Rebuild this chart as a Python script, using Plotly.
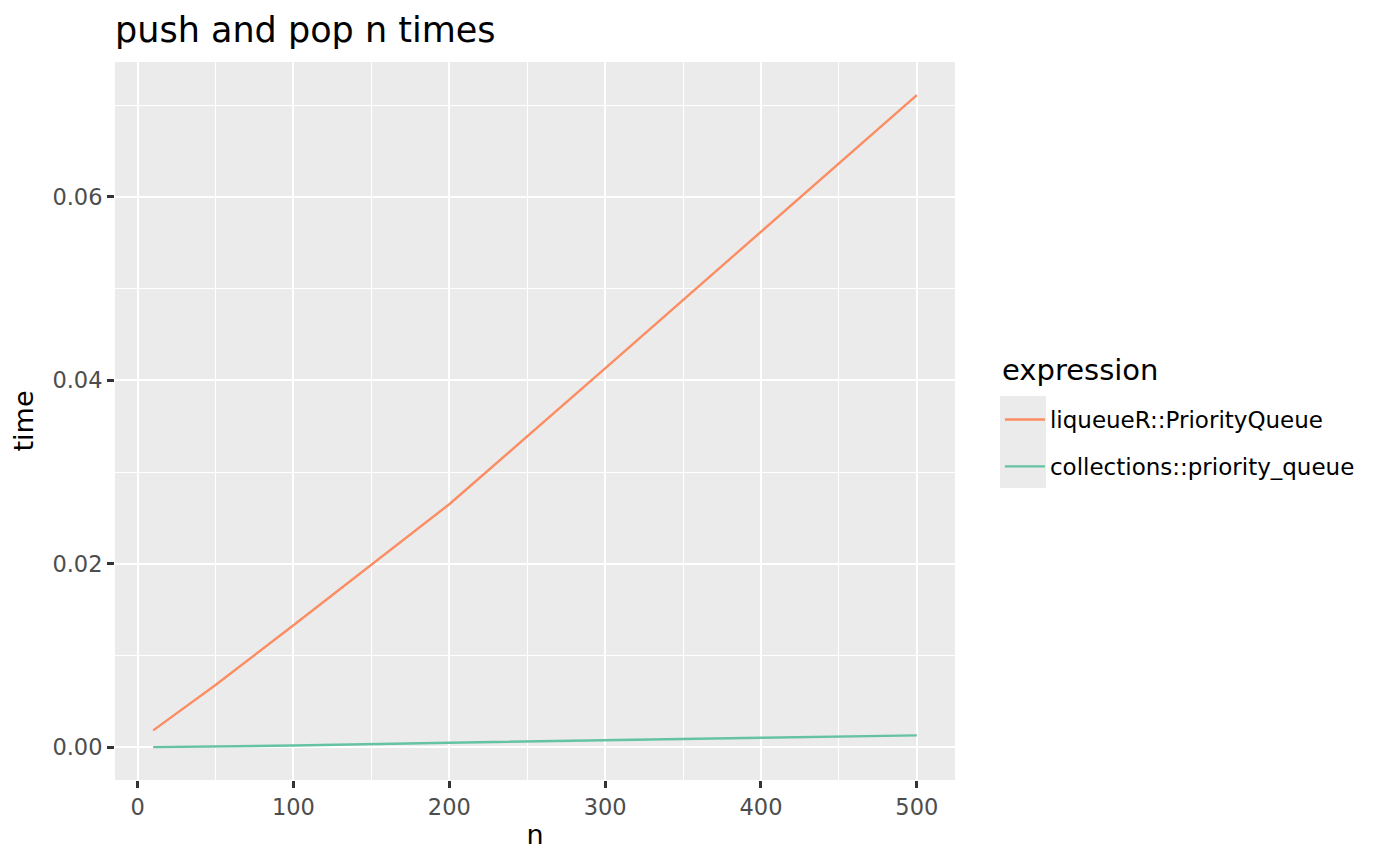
import plotly.graph_objects as go

n_vals = [10, 50, 100, 200, 300, 400, 500]
liqueue_time = [0.00185, 0.0068, 0.0133, 0.0265, 0.0413, 0.0562, 0.0711]
collections_time = [0.00002, 0.0001, 0.0002, 0.0005, 0.0008, 0.00105, 0.0013]
series_names = ["liqueueR::PriorityQueue", "collections::priority_queue"]
series_colors = ["#FC8D62", "#66C2A5"]

FONT = "DejaVu Sans"

fig = go.Figure()
for i, (name, ys, col) in enumerate(zip(series_names, [liqueue_time, collections_time], series_colors)):
    fig.add_trace(go.Scatter(x=n_vals, y=ys, mode="lines", name=name,
                             legendgroup=f"g{i}",
                             line=dict(color=col, width=2.4)))

fig.update_layout(
    width=1392, height=857,
    paper_bgcolor="white", plot_bgcolor="#EBEBEB",
    margin=dict(l=107, r=445, t=54, b=85),
    font=dict(family=FONT, color="black"),
    title=dict(text="push and pop n times", x=107/1392, xanchor="left",
               y=1-22/857, yanchor="middle", font=dict(size=35, family=FONT, color="black")),
    legend=dict(x=1.0535, xanchor="left", y=0.532, yanchor="top",
                font=dict(size=23), bgcolor="rgba(0,0,0,0)", tracegroupgap=14,
                itemwidth=40),
    showlegend=True,
)

fig.add_annotation(text="expression", xref="paper", yref="paper",
                   x=(992-107)/840, y=(772-362)/718, xanchor="left", yanchor="middle",
                   showarrow=False, font=dict(size=29, family=FONT, color="black"))

fig.update_xaxes(
    range=[-14.5, 524.5], tickvals=[0, 100, 200, 300, 400, 500],
    showgrid=True, gridcolor="white", gridwidth=2.2, zeroline=False,
    minor=dict(tickvals=[50, 150, 250, 350, 450], showgrid=True, gridcolor="white", gridwidth=1.1),
    ticks="outside", ticklen=7, tickcolor="#333333", tickwidth=2.5,
    tickfont=dict(size=22.5, color="#4D4D4D"),
    title=dict(text="n", font=dict(size=27), standoff=6),
    showline=False,
)
fig.update_yaxes(
    range=[-0.00356, 0.0747], tickvals=[0, 0.02, 0.04, 0.06], tickformat=".2f",
    showgrid=True, gridcolor="white", gridwidth=2.2, zeroline=False,
    minor=dict(tickvals=[0.01, 0.03, 0.05, 0.07], showgrid=True, gridcolor="white", gridwidth=1.1),
    ticks="outside", ticklen=7, tickcolor="#333333", tickwidth=2.5,
    tickfont=dict(size=22.5, color="#4D4D4D"),
    title=dict(text="time", font=dict(size=27), standoff=10),
    showline=False,
)

fig.add_shape(type="rect", xref="paper", yref="paper",
              x0=(992-107)/840, x1=(1038-107)/840,
              y0=(772-480)/718, y1=(772-388)/718,
              fillcolor="#EBEBEB", line=dict(width=0), layer="below")

fig.write_html("out.html")
